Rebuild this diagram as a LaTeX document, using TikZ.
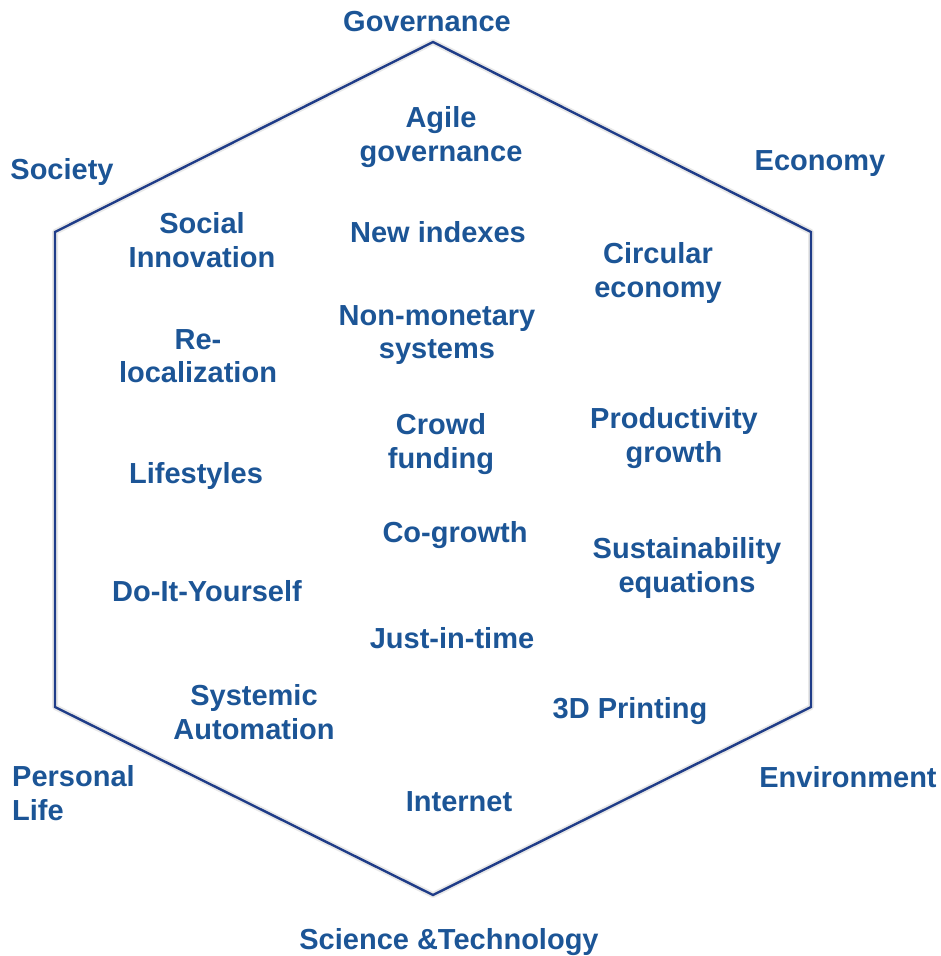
\documentclass[tikz,border=0pt]{standalone}
\usepackage{fontspec}
\setmainfont{Liberation Sans}
\definecolor{hexline}{HTML}{1F3C88}
\definecolor{labelblue}{HTML}{1C5596}
\tikzset{
	label/.style={text=labelblue, font=\bfseries\fontsize{29}{33.5}\selectfont, align=center, inner sep=0pt},
	side/.style={label},
}
\begin{document}
\begin{tikzpicture}[x=1pt, y=-1pt]
	\useasboundingbox (0,0) rectangle (940,956);
	
	% hexagon corners
	\coordinate (top) at (433,42);
	\coordinate (ur) at (811,232);
	\coordinate (lr) at (811,707);
	\coordinate (bot) at (433,895);
	\coordinate (ll) at (55,707);
	\coordinate (ul) at (55,232);
	
	\draw[black!60, opacity=0.15, line width=6pt, shift={(3,5)}, line join=round]
		(top) -- (ur) -- (lr) -- (bot) -- (ll) -- (ul) -- cycle;
	\draw[hexline, line width=2.4pt, line join=miter]
		(top) -- (ur) -- (lr) -- (bot) -- (ll) -- (ul) -- cycle;
	
	% domains round the hexagon
	\node[side] (gov) at (427,22) {Governance};
	\node[side] (soc) at (62,172) {Society};
	\node[side] (eco) at (820,164) {Economy};
	\node[side, align=left, anchor=west] (pers) at (12,793) {Personal\\Life};
	\node[side] (env) at (848,777) {Environment};
	\node[side] (sci) at (449,942) {Science \&Technology};
	
	% ideas inside
	\node[label] (agile) at (441,137) {Agile\\governance};
	\node[label] (index) at (438,232) {New indexes};
	\node[label] (circ) at (658,273) {Circular\\economy};
	\node[label] (socinn) at (202,240) {Social\\Innovation};
	\node[label] (nonmon) at (437,335) {Non-monetary\\systems};
	\node[label] (reloc) at (198,356) {Re-\\localization};
	\node[label] (crowd) at (441,444) {Crowd\\funding};
	\node[label] (prod) at (674,438) {Productivity\\growth};
	\node[label] (life) at (196,476) {Lifestyles};
	\node[label] (cogrow) at (455,535) {Co-growth};
	\node[label] (sust) at (687,568) {Sustainability\\equations};
	\node[label] (diy) at (207,591) {Do-It-Yourself};
	\node[label] (jit) at (452,638) {Just-in-time};
	\node[label] (sysaut) at (254,712) {Systemic\\Automation};
	\node[label] (print) at (630,711) {3D Printing};
	\node[label] (net) at (459,802) {Internet};
	
\end{tikzpicture}
\end{document}
